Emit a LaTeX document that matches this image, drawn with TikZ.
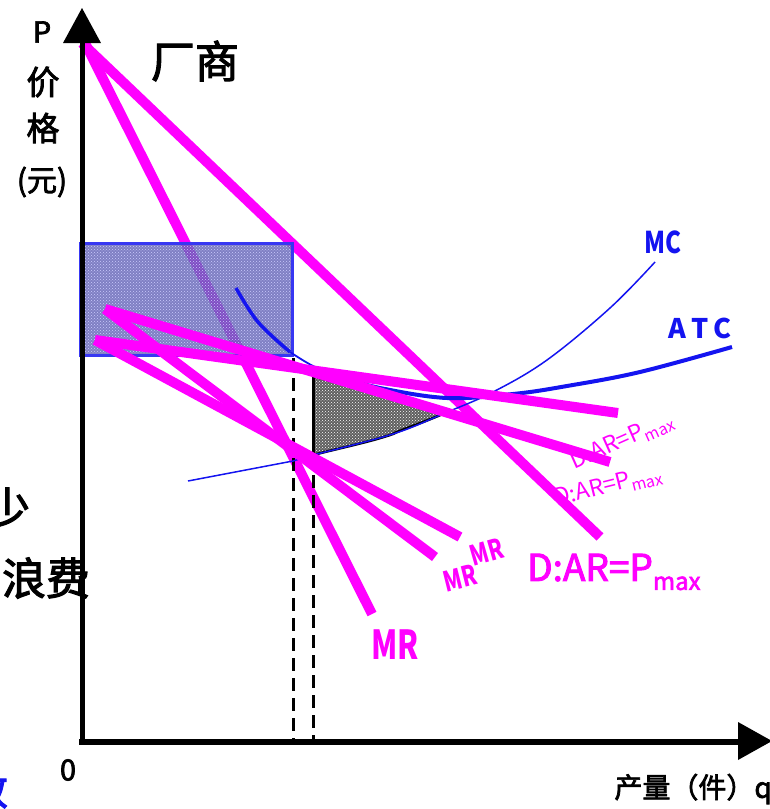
\documentclass[tikz,border=0pt]{standalone}
\usepackage{fontspec}
\setmainfont{Noto Sans CJK SC}
\newfontfamily\med{Noto Sans CJK SC}[FakeBold=2.5]
\usetikzlibrary{patterns}
\definecolor{mag}{RGB}{255,0,255}
\definecolor{ablue}{RGB}{20,20,240}
\definecolor{rectfill}{RGB}{95,95,180}
\definecolor{trifill}{RGB}{95,95,95}
\newcommand\narr[2][0.78]{\scalebox{#1}[1]{#2}}
\newcommand\fs[1]{\fontsize{#1}{#1}\selectfont}
\begin{document}
\begin{tikzpicture}[x=1pt,y=-1pt,
  magline/.style={draw=mag,line width=10pt},
  axisline/.style={line width=5pt,black},
  dashv/.style={line width=3pt,dash pattern=on 13pt off 7pt},
  lbl/.style={inner sep=0pt,anchor=center},
  maglbl/.style={lbl,text=mag,font=\bfseries},
  bluelbl/.style={lbl,text=ablue,font=\bfseries}]
\useasboundingbox (0,0) rectangle (770,809);

% named points
\coordinate (O) at (82,742);
\coordinate (Ytop) at (82,42);
\coordinate (Xend) at (742,742);
\coordinate (Dtop) at (82,43);
\coordinate (Dend) at (600,537);
\coordinate (MRtop) at (86,45);
\coordinate (MRend) at (372,614);
\coordinate (Da0) at (105,309);
\coordinate (Da1) at (610,462);
\coordinate (Db0) at (95,340);
\coordinate (Db1) at (618,413);
\coordinate (MRa1) at (435,557);
\coordinate (MRb1) at (460,537);
\coordinate (q1) at (293,358);
\coordinate (q1b) at (293,742);
\coordinate (q2) at (313,366);
\coordinate (q2m) at (313,455);
\coordinate (q2b) at (313,742);

% first demand and MR (under the rectangle)
\draw[magline] (Dtop) -- (Dend);
\draw[magline] (MRtop) -- (MRend);

% profit rectangle
\fill[rectfill,fill opacity=0.8] (80,243) rectangle (292,355);
\fill[pattern=crosshatch dots,pattern color=white!80!blue] (80,243) rectangle (292,355);
\draw[ablue!85!white,line width=3pt] (80,243) rectangle (292,355);

% grey loss triangle
\path[fill=trifill] (313,376) -- (445,413) .. controls (420,424) and (400,430) .. (393,434) .. controls (370,442) and (340,448) .. (313,455) -- cycle;
\fill[pattern=crosshatch dots,pattern color=white!75] (313,376) -- (445,413) .. controls (420,424) and (400,430) .. (393,434) .. controls (370,442) and (340,448) .. (313,455) -- cycle;
\draw[line width=2.5pt,line join=round] (445,413) -- (313,376);
\draw[line width=2.5pt] (445,413) .. controls (420,424) and (400,430) .. (393,434) .. controls (370,442) and (340,448) .. (313,455);
\draw[line width=3pt] (q2) -- (q2m);

% dashed verticals
\draw[dashv] (q1) -- (q1b);
\draw[dashv] (q2m) -- (q2b);

% ATC curve
\draw[ablue,line width=3.5pt] plot[smooth,tension=0.6] coordinates {(236,288) (258,322) (290,352)};
\draw[ablue,line width=1.8pt] plot[smooth,tension=0.6] coordinates {(290,352) (313,366) (340,377)};
\draw[ablue,line width=4pt] plot[smooth,tension=0.6] coordinates {(340,377) (380,388) (447,398) (513,394) (567,386) (640,372) (732,347)};

% MC curve
\draw[ablue,line width=1.5pt] (188,481) -- (293,461) -- (313,455);
\draw[ablue,line width=1.5pt] plot[smooth,tension=0.6] coordinates {(313,455) (393,434) (445,413) (493,392) (547,360) (610,308) (655,262)};

% other demand and MR lines
\draw[magline] (Db0) -- (Db1);
\draw[magline] (Da0) -- (Da1);
\draw[magline] (Da0) -- (MRa1);
\draw[magline] (Db0) -- (MRb1);

% axes
\draw[axisline] (O) -- (Ytop);
\fill (82,8) -- (63,43) -- (101,43) -- cycle;
\draw[axisline,line width=6pt] (79,742) -- (Xend);
\fill (772,741) -- (738,722) -- (738,760) -- cycle;

% axis texts
\node[lbl,font=\med\fs{29}] (tP) at (42,32) {P};
\node[lbl,font=\med\fs{33}] (tjia) at (43,82) {价};
\node[lbl,font=\med\fs{33}] (tge) at (43,128) {格};
\node[lbl,font=\med\fs{30}] (tyuan) at (42,182) {(元)};
\node[lbl,font=\med\fs{44}] (tfirm) at (195,61) {厂商};
\node[lbl,font=\med\fs{29}] (tzero) at (68,770) {0};
\node[lbl,anchor=east,font=\med\fs{28}] (tq) at (772,789) {产量（件）q};
\node[lbl,font=\med\fs{44}] (tshao) at (8,508) {少};
\node[lbl,font=\med\fs{44}] (tlf) at (46,578) {浪费};
\node[lbl,text=ablue,font=\med\fs{40}] (txiao) at (-12,790) {效};

% curve labels
\node[bluelbl,font=\bfseries\fs{30}] (tMC) at (663,242) {\narr[0.8]{MC}};
\node[bluelbl,font=\bfseries\fs{27}] (tATC) at (700,328) {\narr[1]{A\,T\,C}};

\node[maglbl,font=\bfseries\fs{40}] (tMR) at (395,645) {\narr[0.75]{MR}};
\node[maglbl,font=\bfseries\fs{28},rotate=14] (tMRa) at (460,578) {\narr[0.75]{MR}};
\node[maglbl,font=\bfseries\fs{28},rotate=16] (tMRb) at (487,552) {\narr[0.75]{MR}};

\node[maglbl,font=\med\fs{37},anchor=west] (tD) at (527,572) {D:AR=P\raisebox{-9pt}{\fs{24}max}};
\node[maglbl,font=\fs{23},rotate=24] (tDa) at (622,442) {D:AR=P\raisebox{-5pt}{\fs{16}max}};
\node[maglbl,font=\fs{23},rotate=14] (tDb) at (608,487) {D:AR=P\raisebox{-5pt}{\fs{16}max}};
\end{tikzpicture}
\end{document}
